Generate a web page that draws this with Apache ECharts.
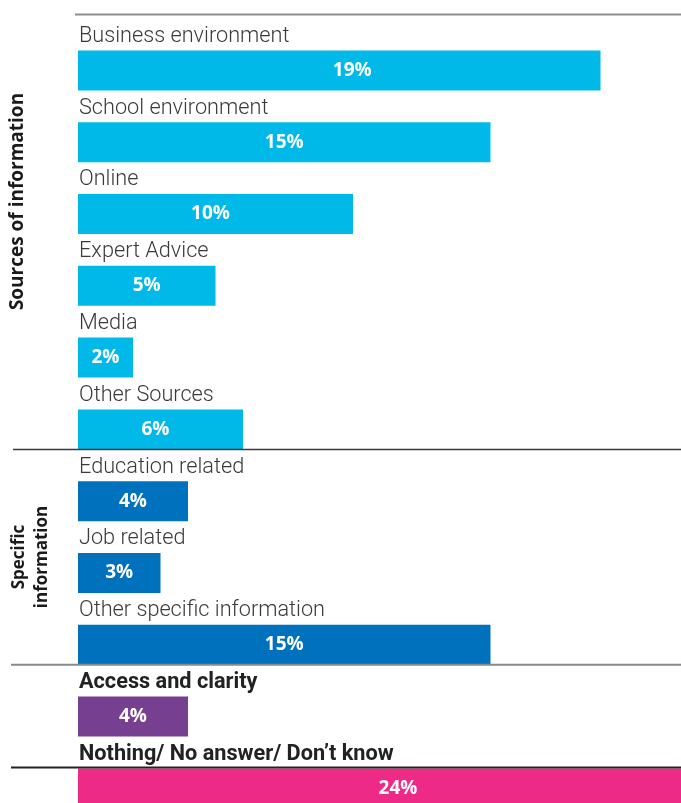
<!DOCTYPE html>
<html>
<head>
<meta charset="utf-8">
<script src="https://cdn.jsdelivr.net/npm/echarts@6/dist/echarts.min.js"></script>
<style>
  html, body { margin: 0; padding: 0; background: #ffffff; }
  #chart { width: 681px; height: 803px; }
</style>
</head>
<body>
<div id="chart"></div>
<script>
// Survey answers, one row per answer, in display order
const categories = [
  'Business environment',
  'School environment',
  'Online',
  'Expert Advice',
  'Media',
  'Other Sources',
  'Education related',
  'Job related',
  'Other specific information',
  'Access and clarity',
  'Nothing/ No answer/ Don\u2019t know'
];
const shares = [19, 15, 10, 5, 2, 6, 4, 3, 15, 4, 24];
const groups = ['source', 'source', 'source', 'source', 'source', 'source',
                'specific', 'specific', 'specific', 'access', 'none'];

const groupColors = {
  source: '#00B9E8',
  specific: '#0071BC',
  access: '#773F8F',
  none: '#EE2A87'
};
const boldGroups = ['access', 'none'];
// small horizontal nudges for a few value labels (px)
const valueLabelNudge = { 0: 13, 2: -5, 5: -5, 10: -10 };

const chart = echarts.init(document.getElementById('chart'), null, { renderer: 'canvas' });

const BAR_H = 40;

const nameData = categories.map((c, i) => {
  const bold = boldGroups.includes(groups[i]);
  return {
    value: shares[i],
    label: {
      fontWeight: bold ? 'bold' : 300,
      fontSize: 21.7,
      color: bold ? '#222222' : '#3a3a3a'
    }
  };
});

const barData = shares.map((v, i) => ({
  value: v,
  itemStyle: { color: groupColors[groups[i]] },
  label: { offset: [valueLabelNudge[i] || 0, 0] }
}));

chart.setOption({
  animation: false,
  backgroundColor: '#ffffff',
  grid: {
    left: 78,
    top: 34.5,
    width: 660,
    height: 789.8,
    containLabel: false,
    outerBoundsMode: 'none'
  },
  xAxis: {
    type: 'value',
    min: 0,
    max: 24,
    show: false
  },
  yAxis: {
    type: 'category',
    data: categories,
    inverse: true,
    show: false
  },
  series: [
    {
      // answer captions sitting above each bar
      type: 'bar',
      data: nameData,
      barWidth: BAR_H,
      barGap: '-100%',
      silent: true,
      itemStyle: { color: 'rgba(0,0,0,0)' },
      label: {
        show: true,
        position: [1, -3],
        align: 'left',
        verticalAlign: 'bottom',
        fontFamily: 'Roboto',
        formatter: p => categories[p.dataIndex]
      },
      z: 3
    },
    {
      type: 'bar',
      data: barData,
      barWidth: BAR_H,
      barGap: '-100%',
      silent: true,
      label: {
        show: true,
        position: 'inside',
        color: '#ffffff',
        fontFamily: 'Open Sans',
        fontWeight: 'bold',
        fontSize: 19,
        formatter: p => p.value + '%'
      },
      z: 2
    }
  ]
});

// group separators and group titles
function yOf(i) {
  return chart.convertToPixel({ gridIndex: 0 }, [0, categories[i]])[1];
}
const half = BAR_H / 2;
const sepLines = [
  { y: yOf(0) - 56, x1: 75, color: '#8e8e8e', w: 2 },
  { y: yOf(5) + half, x1: 13, color: '#3a3a3a', w: 1.5 },
  { y: yOf(8) + half, x1: 11, color: '#8a8a8a', w: 2 },
  { y: yOf(10) - half - 1, x1: 11, color: '#222222', w: 2 }
];

chart.setOption({
  graphic: sepLines.map(s => ({
    type: 'line',
    silent: true,
    z: 10,
    shape: { x1: s.x1, y1: s.y, x2: 681, y2: s.y },
    style: { stroke: s.color, lineWidth: s.w }
  })).concat([
    {
      type: 'text',
      silent: true,
      x: 18,
      y: 201.5,
      rotation: Math.PI / 2,
      style: {
        text: 'Sources of information',
        fontFamily: 'Open Sans',
        fontWeight: 'bold',
        fontSize: 19,
        fill: '#1a1a1a',
        align: 'center',
        verticalAlign: 'middle'
      }
    },
    {
      type: 'text',
      silent: true,
      x: 30.5,
      y: 557,
      rotation: Math.PI / 2,
      style: {
        text: 'Specific\ninformation',
        fontFamily: 'Open Sans',
        fontWeight: 'bold',
        fontSize: 17,
        lineHeight: 23,
        fill: '#1a1a1a',
        align: 'center',
        verticalAlign: 'middle'
      }
    }
  ])
});
</script>
</body>
</html>
